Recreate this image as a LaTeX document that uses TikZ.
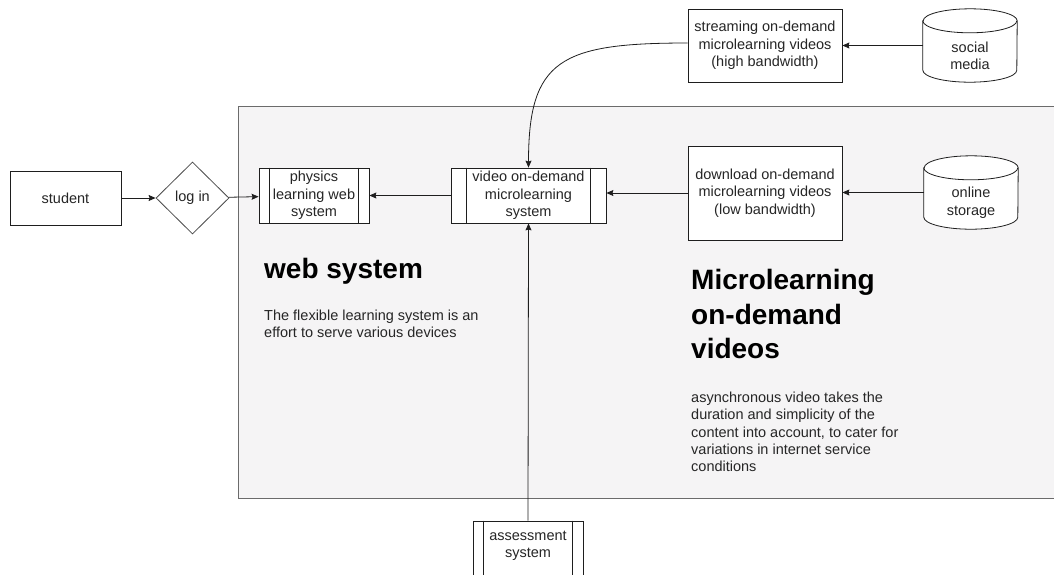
\documentclass[tikz,border=0pt]{standalone}
\usepackage{fontspec}
\setmainfont{Liberation Sans}
\usetikzlibrary{shapes.geometric,arrows.meta}
\pgfdeclarelayer{bg}
\pgfsetlayers{bg,main}
\definecolor{panelfill}{HTML}{F5F4F5}
\definecolor{panelline}{HTML}{6B6B6B}
\definecolor{ink}{HTML}{1E1E1E}
\definecolor{txt}{HTML}{262626}
\tikzset{
  box/.style={draw=ink, line width=0.8pt, fill=white, rectangle, inner sep=0pt, align=center,
    text=txt, font=\fontsize{14.5}{17.5}\selectfont},
  decision/.style={draw=ink!80, line width=0.8pt, fill=white, diamond, inner sep=0pt, align=center,
    text=txt, font=\fontsize{14.5}{17.5}\selectfont},
  store/.style={rectangle, inner sep=0pt, align=center, text=txt,
    font=\fontsize{14.5}{17.5}\selectfont, minimum width=94pt, minimum height=73pt},
  conn/.style={draw=ink, line width=0.8pt, -{Stealth[length=7pt,width=6pt,inset=1pt]}},
  heading/.style={inner sep=0pt, align=left, text=black, font=\fontsize{28}{34.5}\selectfont\bfseries},
  para/.style={inner sep=0pt, align=left, text=txt, font=\fontsize{14.5}{17.4}\selectfont},
}
\newcommand{\cylshape}[1]{%
  \draw[ink, line width=0.8pt, fill=white]
    ([yshift=-12pt]#1.north west) -- ([yshift=12pt]#1.south west)
    arc[start angle=180, end angle=360, x radius=47pt, y radius=12pt]
    -- ([yshift=-12pt]#1.north east)
    arc[start angle=0, end angle=180, x radius=47pt, y radius=12pt] -- cycle;
  \draw[ink, line width=0.8pt] ([yshift=-12pt]#1.north west)
    arc[start angle=180, end angle=360, x radius=47pt, y radius=12pt];}
\begin{document}
\begin{tikzpicture}[x=1pt,y=-1pt]
\useasboundingbox (0,0) rectangle (1054,574);
\begin{pgfonlayer}{bg}
  \fill[panelfill] (238,106) rectangle (1054,498);
  \draw[panelline, line width=0.9pt] (1054,106) -- (238,106) -- (238,498) -- (1054,498);
\end{pgfonlayer}

\node[box, minimum width=111pt, minimum height=54pt] (student) at (65.5,198) {student};
\node[decision, minimum width=73pt, minimum height=72pt] (login) at (192.5,198) {log in};
\node[box, minimum width=110pt, minimum height=55pt] (phys) at (314,195.5) {physics\\learning web\\system};
\node[box, minimum width=155pt, minimum height=55pt] (video) at (528.5,195.5) {video on-demand\\microlearning\\system};
\node[box, minimum width=154pt, minimum height=94pt] (download) at (765,193) {download on-demand\\microlearning videos\\(low bandwidth)};
\node[box, minimum width=154pt, minimum height=73pt] (stream) at (765,45.5) {streaming on-demand\\microlearning videos\\(high bandwidth)};
\node[store] (social) at (970,45.5) {\rule{0pt}{31pt}social\\media};
\node[store] (online) at (971,192.5) {\rule{0pt}{31pt}online\\storage};
\node[box, minimum width=110pt, minimum height=60pt] (assess) at (528,551) {assessment\\system\\[-4pt]};

\begin{pgfonlayer}{bg}
  \cylshape{social}
  \cylshape{online}
\end{pgfonlayer}

\foreach \n/\o in {phys/11, video/16, assess/11}{
  \draw[ink, line width=0.8pt] ([xshift=\o pt]\n.north west) -- ([xshift=\o pt]\n.south west);
  \draw[ink, line width=0.8pt] ([xshift=-\o pt]\n.north east) -- ([xshift=-\o pt]\n.south east);
}

\draw[conn] (student) -- (login);
\draw[conn] (login) -- (phys);
\draw[conn] (video) -- (phys);
\draw[conn] (download.west) -- (download.west -| video.east);
\draw[conn] (online.west) -- (online.west -| download.east);
\draw[conn] (social.west) -- (social.west -| stream.east);
\draw[conn] ([yshift=2.5pt]stream.west) .. controls (560,43) and (528.5,60) .. (video.north);
\draw[conn] (assess.north) -- (video.south);

\node[heading, anchor=base west] (webh) at (264,278) {web system};
\node[para, anchor=north west] (webp) at (264,309.5) {The flexible learning system is an\\effort to serve various devices};
\node[heading, anchor=north west] (microh) at (691,269.5) {Microlearning\\on-demand\\videos};
\node[para, anchor=north west] (microp) at (691,391.5) {asynchronous video takes the\\duration and simplicity of the\\content into account, to cater for\\variations in internet service\\conditions};
\end{tikzpicture}
\end{document}
